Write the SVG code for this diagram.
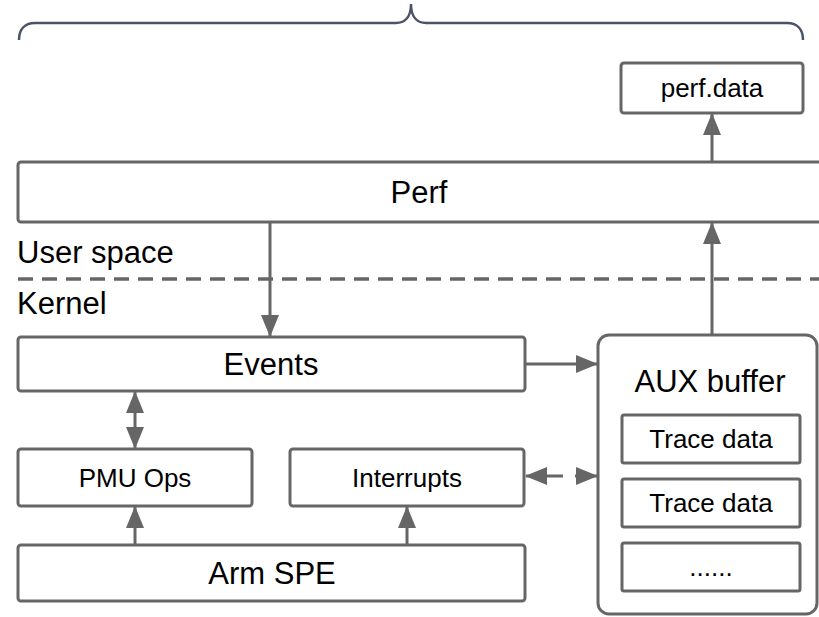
<svg xmlns="http://www.w3.org/2000/svg" width="819" height="617" viewBox="0 0 819 617">
<style>
.box{fill:#fff;stroke:#666;stroke-width:3}
.big{font-family:"Liberation Sans",Arial,sans-serif;font-size:31px;fill:#000}
.sm{font-family:"Liberation Sans",Arial,sans-serif;font-size:26px;fill:#000}
.c{text-anchor:middle}
.ln{stroke:#666;stroke-width:3;fill:none}
</style>
<defs>
<marker id="ah" viewBox="0 0 22 18" refX="21" refY="9" markerWidth="22" markerHeight="18" markerUnits="userSpaceOnUse" orient="auto-start-reverse">
<path d="M0,0 L22,9 L0,18 Z" fill="#666"/>
</marker>
</defs>
<path id="brace" d="M19,40 C19,30 24,23 35,23 L396,23 C404,23 411,18 411,4 C411,18 418,23 426,23 L787,23 C798,23 803,30 803,40" fill="none" stroke="#4a5466" stroke-width="2.5"/>
<g id="perfdata"><rect class="box" x="621" y="63" width="182" height="50" rx="3"/><text class="sm c" x="712" y="97">perf.data</text></g>
<g id="perf"><rect class="box" x="18" y="162" width="812" height="60" rx="3"/><text class="big c" x="419" y="203">Perf</text></g>
<g id="labels">
<text class="big" x="17" y="263">User space</text>
<text class="big" x="17" y="314">Kernel</text>
<line x1="18" y1="279" x2="819" y2="279" stroke="#666" stroke-width="3.5" stroke-dasharray="15 9"/>
</g>
<g id="events"><rect class="box" x="18" y="337" width="507" height="54" rx="3"/><text class="big c" x="271" y="375">Events</text></g>
<g id="pmu"><rect class="box" x="18" y="449" width="234" height="57" rx="3"/><text class="sm c" x="135" y="487">PMU Ops</text></g>
<g id="interrupts"><rect class="box" x="290" y="449" width="234" height="57" rx="3"/><text class="sm c" x="407" y="487">Interrupts</text></g>
<g id="armspe"><rect class="box" x="18" y="545" width="507" height="56" rx="3"/><text class="big c" x="272" y="584">Arm SPE</text></g>
<g id="aux"><rect class="box" x="598" y="335" width="219" height="279" rx="11"/><text class="big c" x="710" y="392">AUX buffer</text>
<g id="trace1"><rect class="box" x="622" y="415" width="178" height="48" rx="2"/><text class="sm c" x="711" y="448">Trace data</text></g>
<g id="trace2"><rect class="box" x="622" y="479" width="178" height="48" rx="2"/><text class="sm c" x="711" y="512">Trace data</text></g>
<g id="more"><rect class="box" x="622" y="543" width="178" height="48" rx="2"/><text class="sm c" x="711" y="576">......</text></g>
</g>
<g id="connectors">
<line class="ln" x1="712" y1="162" x2="712" y2="114" marker-end="url(#ah)"/>
<line class="ln" x1="270" y1="222" x2="270" y2="336" marker-end="url(#ah)"/>
<line class="ln" x1="712" y1="335" x2="712" y2="223" marker-end="url(#ah)"/>
<line class="ln" x1="525" y1="364" x2="597" y2="364" marker-end="url(#ah)"/>
<line class="ln" x1="135" y1="392" x2="135" y2="448" marker-start="url(#ah)" marker-end="url(#ah)"/>
<line class="ln" x1="526" y1="476" x2="597" y2="476" stroke-dasharray="37 12" marker-start="url(#ah)" marker-end="url(#ah)"/>
<line class="ln" x1="135" y1="545" x2="135" y2="507" marker-end="url(#ah)"/>
<line class="ln" x1="407" y1="545" x2="407" y2="507" marker-end="url(#ah)"/>
</g>
</svg>
